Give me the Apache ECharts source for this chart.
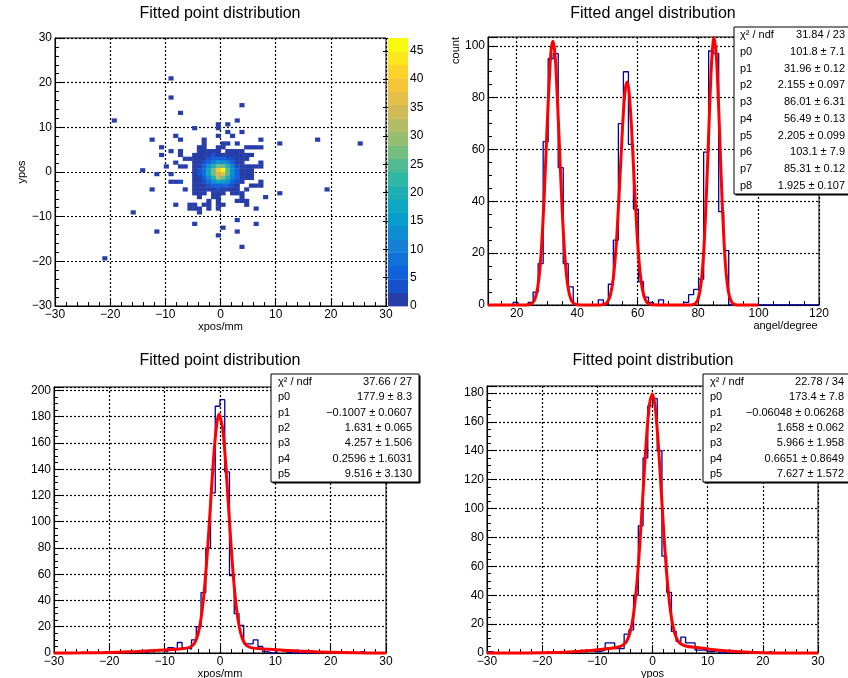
<!DOCTYPE html>
<html><head><meta charset="utf-8">
<script src="https://cdn.jsdelivr.net/npm/echarts@6/dist/echarts.min.js"></script>
<style>html,body{margin:0;padding:0;background:#fff}#c{width:848px;height:678px}</style>
</head><body><div id="c"></div>
<script>
// ---------------- DATA ----------------
const FONT = '"Liberation Sans", Arial, Helvetica, sans-serif';
const titleTexts = ['Fitted point distribution', 'Fitted angel distribution', 'Fitted point distribution', 'Fitted point distribution'];

// 2D histogram (70x70 bins, -30..30 mm)
const heatMin = -30, heatMax = 30, heatBins = 70;
const heatZMax = 47.25;
const heatCoreFirstCol = 28;
const heatCoreRowsJ = [47,46,45,44,43,42,41,40,39,38,37,36,35,34,33,32,31,30,29,28,27,26,25,24];
const heatCoreCounts = [
  [0,0,0,0,0,0,1,0,1,0,0,0,0,0,0,0,0],
  [0,1,0,0,0,0,1,0,0,0,0,0,0,0,0,0,0],
  [0,0,0,0,0,0,0,0,1,0,0,1,0,0,0,0,0],
  [0,0,0,0,0,0,1,0,0,1,0,0,0,0,0,0,0],
  [0,0,0,1,0,0,0,0,0,0,0,0,0,0,0,1,0],
  [0,0,0,1,0,0,0,1,1,0,1,0,0,0,0,0,0],
  [0,0,1,1,0,0,1,1,0,0,0,0,1,1,1,1,0],
  [0,0,1,1,1,1,1,0,1,1,1,1,0,0,0,0,0],
  [0,1,1,2,2,3,2,2,2,1,2,1,1,1,0,0,0],
  [1,1,1,2,3,5,6,6,4,3,1,1,1,0,0,0,0],
  [0,1,1,3,7,10,15,14,11,6,2,1,0,0,0,1,0],
  [0,1,2,6,12,19,27,26,19,10,4,1,1,1,1,1,0],
  [0,1,3,8,17,26,38,45,24,13,6,2,1,1,0,0,0],
  [0,1,3,8,17,27,35,36,25,13,6,2,1,1,0,0,0],
  [0,1,2,6,13,20,31,27,20,11,5,2,1,1,0,0,0],
  [0,1,1,4,8,12,17,16,12,7,3,1,0,0,0,1,0],
  [0,1,1,2,3,6,7,7,5,3,1,0,0,1,1,1,0],
  [0,1,1,1,1,2,3,2,2,1,1,0,1,0,0,0,0],
  [0,1,1,1,0,1,1,1,0,1,1,1,0,0,0,0,0],
  [0,0,1,0,0,1,1,0,0,0,0,1,0,0,0,0,1],
  [0,0,0,0,1,0,1,0,0,0,1,1,1,0,0,0,0],
  [1,1,0,1,1,0,1,1,0,0,0,0,1,0,0,0,0],
  [1,1,1,0,1,0,1,0,0,0,0,0,0,0,1,0,0],
  [0,0,1,0,0,0,0,0,0,0,0,0,0,0,0,0,0]
];
const heatOutliers = [
  [24,59,1],[24,54,1],[39,52,1],[26,50,1],[12,48,1],[38,48,1],[25,44,1],[20,43,1],[26,43,1],[55,43,1],
  [47,42,1],[64,42,1],[22,41,1],[22,39,1],[24,40,1],[26,40,1],[26,39,1],[27,38,1],[25,37,1],[23,36,1],
  [26,36,1],[27,36,1],[18,35,1],[21,34,1],[24,34,1],[24,32,1],[25,32,1],[26,32,3],[20,30,1],[27,30,1],
  [25,26,1],[16,24,1],[21,19,1],[29,21,1],[38,22,1],[42,21,1],[35,20,1],[38,19,1],[34,18,1],[39,15,1],
  [10,12,1],[57,30,1],[47,29,1]
];

// angle histogram (66 bins, 10.5..120)
const angleMin = 10.5, angleMax = 120;
const angleCounts = [0,0,0,0,0,1,0,0,1,5, 16,63,95,97,53,16,7,0,0,0, 0,0,2,0,8,25,70,90,62,37,
  9,3,1,0,2,0,0,0,0,1, 4,6,10,59,98,97,36,21,0,0, 0,0,0,0,0,0,0,0,0,0, 0,0,0,0,0,0];
const angleFitX = [10.5,15,20,22,24,25,26,27,28,29,30,31,31.5,32,32.5,33,34,35,36,37,38,39,40,42,45,47,48,49,50,51,52,53,54,55,55.5,56,56.5,57,57.5,58,59,60,61,62,63,64,65,67,70,75,77,78,79,80,81,82,83,84,84.5,85,85.3,86,86.5,87,88,89,90,91,92,93,95,100];
const angleFitY = [0,0,0,0,0.11,0.55,2.2,7.2,18.8,39.6,67.3,92.2,99.5,101.8,98.7,90.6,65.0,37.6,17.6,6.6,2.0,0.5,0.1,0,0,0,0.05,0.27,1.1,3.9,10.8,24.6,45.5,68.5,77.8,83.9,86.0,83.7,77.4,68.0,45.0,24.2,10.6,3.8,1.1,0.26,0.05,0,0,0,0,0.08,0.48,2.3,8.4,23.5,50.2,81.8,94.4,101.8,103.1,96.7,85.2,70.1,38.8,16.4,5.3,1.3,0.25,0.03,0,0];

// xpos histogram (70 bins, -30..30)
const posMin = -30, posMax = 30;
const xposCounts = [0,0,0,0,0,0,0,0,0,0, 1,0,1,0,0,0,1,0,1,0, 2,2,2,1,4,3,8,4,3,10,
  20,46,80,122,188,193,138,59,30,21, 7,7,10,5,1,0,0,2,1,0, 0,0,0,0,0,1,0,1,0,0, 0,0,0,0,1,0,0,0,0,0];
const xFitX = [-30,-25,-20,-15,-12,-10,-8,-6,-5,-4.5,-4,-3.5,-3,-2.5,-2,-1.5,-1,-0.5,-0.1,0,0.5,1,1.5,2,2.5,3,3.5,4,4.5,5,6,8,10,12,15,20,25,30];
const xFitY = [0.03,0.13,0.44,1.18,1.86,2.38,2.92,3.69,5.61,8.4,14.05,24.2,40.6,64.4,94.4,127.3,157.0,176.9,182.1,181.9,170.5,145.9,114.1,81.8,54.0,33.3,19.6,11.5,7.2,5.1,3.71,3.07,2.52,1.99,1.28,0.49,0.15,0.03];

// ypos histogram (70 bins, -30..30)
const yposCounts = [1,0,0,0,0,0,0,0,0,0, 0,0,1,0,0,1,0,0,1,2, 1,2,1,1,2,7,7,3,3,13,
  16,40,88,135,171,176,140,67,42,15, 8,11,7,7,2,2,1,1,2,0, 1,0,1,0,1,0,0,0,0,1, 0,0,0,0,0,0,0,0,0,0];
const yFitX = [-30,-25,-20,-15,-12,-10,-8,-6,-5,-4.5,-4,-3.5,-3,-2.5,-2,-1.5,-1,-0.5,0,0.5,1,1.5,2,2.5,3,3.5,4,4.5,5,6,8,10,12,15,20,25,30];
const yFitY = [0,0.02,0.15,0.72,1.5,2.24,3.13,4.35,6.58,9.55,15.25,25.3,41.3,64.2,93.1,124.6,153.5,173.3,179.2,169.8,147.3,117.2,86.0,58.4,37.3,22.9,14.1,9.2,6.73,4.89,3.76,2.82,1.98,1.02,0.24,0.04,0];

// axis ranges
const angleYMax = 103.4, xposYMax = 202.65, yposYMax = 184.8;

// stats boxes
const angleStatLabels = ['\u03c7\u00b2 / ndf','p0','p1','p2','p3','p4','p5','p6','p7','p8'];
const angleStatValues = ['31.84 / 23','101.8 \u00b1 7.1','31.96 \u00b1 0.12','2.155 \u00b1 0.097','86.01 \u00b1 6.31','56.49 \u00b1 0.13','2.205 \u00b1 0.099','103.1 \u00b1 7.9','85.31 \u00b1 0.12','1.925 \u00b1 0.107'];
const xStatLabels = ['\u03c7\u00b2 / ndf','p0','p1','p2','p3','p4','p5'];
const xStatValues = ['37.66 / 27','177.9 \u00b1 8.3','\u22120.1007 \u00b1 0.0607','1.631 \u00b1 0.065','4.257 \u00b1 1.506','0.2596 \u00b1 1.6031','9.516 \u00b1 3.130'];
const yStatLabels = ['\u03c7\u00b2 / ndf','p0','p1','p2','p3','p4','p5'];
const yStatValues = ['22.78 / 34','173.4 \u00b1 7.8','\u22120.06048 \u00b1 0.06268','1.658 \u00b1 0.062','5.966 \u00b1 1.958','0.6651 \u00b1 0.8649','7.627 \u00b1 1.572'];

// ---------------- BUILD ----------------
const birdStops = [[0.2082,0.1664,0.5293],[0.0592,0.3599,0.8684],[0.0780,0.5041,0.8385],[0.0232,0.6419,0.7914],[0.1802,0.7178,0.6425],[0.5301,0.7492,0.4662],[0.8186,0.7328,0.3499],[0.9956,0.7862,0.1968],[0.9764,0.9832,0.0539]];
function bird(f) {
  const s = Math.max(0, Math.min(1, f)) * 8;
  const k = Math.min(7, Math.floor(s)); const t = s - k;
  const a = birdStops[k], b = birdStops[k + 1];
  return 'rgb(' + [0,1,2].map(c => Math.round(255 * (a[c] + (b[c] - a[c]) * t))).join(',') + ')';
}
const nLevels = 20, levelW = heatZMax / nLevels;
const pieces = [], colorbarData = [];
for (let k = 0; k < nLevels; k++) {
  const f = Math.floor((k + 0.99) * 255 / nLevels) / 254;
  const p = { gte: k * levelW, color: bird(f) };
  if (k < nLevels - 1) p.lt = (k + 1) * levelW; else p.lte = heatZMax + 1;
  pieces.push(p);
  colorbarData.push([k * levelW, (k + 1) * levelW, (k + 0.5) * levelW]);
}

const heatBW = (heatMax - heatMin) / heatBins;
const heatCells = [];
heatCoreRowsJ.forEach((j, r) => heatCoreCounts[r].forEach((c, ci) => { if (c > 0) heatCells.push([heatCoreFirstCol + ci, j, c]); }));
heatOutliers.forEach(o => heatCells.push(o));
const heatData = heatCells.map(([i, j, c]) => [heatMin + i * heatBW, heatMin + j * heatBW, c]);

function stepData(xmin, xmax, counts) {
  const w = (xmax - xmin) / counts.length;
  const d = counts.map((c, k) => [xmin + k * w, c]);
  d.push([xmax, counts[counts.length - 1]]);
  return d;
}
const zip = (xs, ys) => xs.map((x, k) => [x, ys[k]]);

function tickFmt(step) {
  return v => {
    const r = v / step;
    if (Math.abs(r - Math.round(r)) > 1e-6) return '';
    const s = String(Math.round(Math.abs(v) * 1e6) / 1e6);
    return v < 0 ? '\u2212' + s : s;
  };
}
const nameStyle = { color: '#000', fontSize: 11, fontFamily: FONT };
function valAxis(gridIndex, min, max, step, minorSplit, extra, noInterval) {
  const ax = {
    type: 'value', gridIndex, min, max,
    axisLine: { show: true, onZero: false, lineStyle: { color: '#000', width: 1 } },
    axisTick: { show: true, inside: true, length: 8, lineStyle: { color: '#000', width: 1 } },
    minorTick: { show: true, splitNumber: minorSplit, length: 4, lineStyle: { color: '#000', width: 1 } },
    axisLabel: { color: '#000', fontSize: 12, fontFamily: FONT, margin: 3, formatter: tickFmt(step), hideOverlap: false },
    splitLine: { show: true, lineStyle: { color: '#000', type: [2, 2], width: 1.2 } },
    minorSplitLine: { show: false },
    nameTextStyle: nameStyle
  };
  if (!noInterval) ax.interval = step;
  return Object.assign(ax, extra || {});
}

const gridBase = { show: true, borderColor: '#000', borderWidth: 1, containLabel: false, outerBoundsMode: 'none', backgroundColor: 'rgba(0,0,0,0)' };
const grids = [
  Object.assign({ left: 55, top: 38, width: 331, height: 268 }, gridBase),
  Object.assign({ left: 488, top: 37, width: 331, height: 268 }, gridBase),
  Object.assign({ left: 54, top: 387, width: 332, height: 266 }, gridBase),
  Object.assign({ left: 487, top: 386, width: 331, height: 267 }, gridBase),
  { left: 388, top: 38, width: 20, height: 268, show: false, containLabel: false, outerBoundsMode: 'none' }
];

const xAxes = [
  valAxis(0, posMin, posMax, 10, 5, { name: 'xpos/mm', nameLocation: 'middle', nameGap: 11 }),
  valAxis(1, angleMin, angleMax, 20, 4, { name: 'angel/degree', nameLocation: 'middle', nameGap: 10,
    nameTextStyle: Object.assign({ padding: [0, 0, 0, 264] }, nameStyle) }, true),
  valAxis(2, posMin, posMax, 10, 5, { name: 'xpos/mm', nameLocation: 'middle', nameGap: 14 }),
  valAxis(3, posMin, posMax, 10, 5, { name: 'ypos', nameLocation: 'middle', nameGap: 14 }),
  { type: 'value', gridIndex: 4, min: 0, max: 1, show: false }
];
const yAxes = [
  valAxis(0, posMin, posMax, 10, 5, { name: 'ypos', nameLocation: 'middle', nameGap: 27 }),
  valAxis(1, 0, angleYMax, 20, 4, { name: 'count', nameLocation: 'end', nameGap: 0, nameRotate: 90,
    nameTextStyle: Object.assign({ align: 'right', verticalAlign: 'bottom', padding: [0, 0, 27, 0] }, nameStyle) }),
  valAxis(2, 0, xposYMax, 20, 4),
  valAxis(3, 0, yposYMax, 20, 4),
  { type: 'value', gridIndex: 4, min: 0, max: heatZMax, interval: 5, position: 'right',
    axisLine: { show: false }, splitLine: { show: false },
    axisTick: { show: true, inside: true, length: 5, lineStyle: { color: '#000' } },
    axisLabel: { color: '#000', fontSize: 12, fontFamily: FONT, margin: 2, formatter: tickFmt(5) } }
];

function statBox(x, y, w, h, labels, values, lx, rx) {
  const rowH = h / labels.length;
  const children = [
    { type: 'rect', z: 100, shape: { x: x + 1.5, y: y + 1.5, width: w, height: h }, style: { fill: '#000' } },
    { type: 'rect', z: 101, shape: { x: x, y: y, width: w, height: h }, style: { fill: '#fff', stroke: '#000', lineWidth: 1 } }
  ];
  labels.forEach((l, k) => {
    children.push({ type: 'text', z: 102, x: x + lx, y: y + (k + 0.5) * rowH,
      style: { text: l, fill: '#000', font: '11px ' + FONT, align: 'left', verticalAlign: 'middle' } });
    children.push({ type: 'text', z: 102, x: x + w - rx, y: y + (k + 0.5) * rowH,
      style: { text: values[k], fill: '#000', font: '11px ' + FONT, align: 'right', verticalAlign: 'middle' } });
  });
  return children;
}

const titlePos = [[220, 6], [653, 6], [220, 353], [653, 353]];
const option = {
  animation: false,
  backgroundColor: '#fff',
  title: titleTexts.map((t, k) => ({ text: t, left: titlePos[k][0], top: titlePos[k][1], textAlign: 'center', padding: 0,
    textStyle: { fontSize: 16, fontWeight: 'normal', color: '#000', fontFamily: FONT } })),
  grid: grids,
  xAxis: xAxes,
  yAxis: yAxes,
  visualMap: { type: 'piecewise', show: false, dimension: 2, seriesIndex: [0, 1], pieces },
  series: [
    { type: 'custom', xAxisIndex: 0, yAxisIndex: 0, data: heatData, encode: { x: 0, y: 1 }, z: 2,
      renderItem: (params, api) => {
        const x0 = api.value(0), y0 = api.value(1);
        const p0 = api.coord([x0, y0 + heatBW]), p1 = api.coord([x0 + heatBW, y0]);
        return { type: 'rect', shape: { x: p0[0], y: p0[1], width: p1[0] - p0[0] + 0.4, height: p1[1] - p0[1] + 0.4 },
          style: { fill: api.visual('color') } };
      } },
    { type: 'custom', xAxisIndex: 4, yAxisIndex: 4, data: colorbarData, encode: { y: [0, 1] },
      renderItem: (params, api) => {
        const p0 = api.coord([0, api.value(1)]), p1 = api.coord([1, api.value(0)]);
        return { type: 'rect', shape: { x: p0[0], y: p0[1], width: p1[0] - p0[0], height: p1[1] - p0[1] + 0.4 },
          style: { fill: api.visual('color') } };
      } },
    { type: 'line', xAxisIndex: 1, yAxisIndex: 1, data: stepData(angleMin, angleMax, angleCounts), step: 'end', symbol: 'none',
      lineStyle: { color: '#000099', width: 1.3 }, z: 3 },
    { type: 'line', xAxisIndex: 1, yAxisIndex: 1, data: zip(angleFitX, angleFitY), smooth: 0.3, symbol: 'none', clip: false,
      lineStyle: { color: '#ff0000', width: 3 }, z: 4 },
    { type: 'line', xAxisIndex: 2, yAxisIndex: 2, data: stepData(posMin, posMax, xposCounts), step: 'end', symbol: 'none',
      lineStyle: { color: '#000099', width: 1.3 }, z: 3 },
    { type: 'line', xAxisIndex: 2, yAxisIndex: 2, data: zip(xFitX, xFitY), smooth: 0.3, symbol: 'none', clip: false,
      lineStyle: { color: '#ff0000', width: 3 }, z: 4 },
    { type: 'line', xAxisIndex: 3, yAxisIndex: 3, data: stepData(posMin, posMax, yposCounts), step: 'end', symbol: 'none',
      lineStyle: { color: '#000099', width: 1.3 }, z: 3 },
    { type: 'line', xAxisIndex: 3, yAxisIndex: 3, data: zip(yFitX, yFitY), smooth: 0.3, symbol: 'none', clip: false,
      lineStyle: { color: '#ff0000', width: 3 }, z: 4 }
  ],
  graphic: { elements: [].concat(
    statBox(734, 27, 116, 167, angleStatLabels, angleStatValues, 6, 5),
    statBox(271, 374, 148, 108, xStatLabels, xStatValues, 7, 7),
    statBox(703, 374, 147, 108, yStatLabels, yStatValues, 7, 6)
  ) }
};
const chart = echarts.init(document.getElementById('c'), null, { renderer: 'canvas' });
chart.setOption(option);
</script>
</body></html>
